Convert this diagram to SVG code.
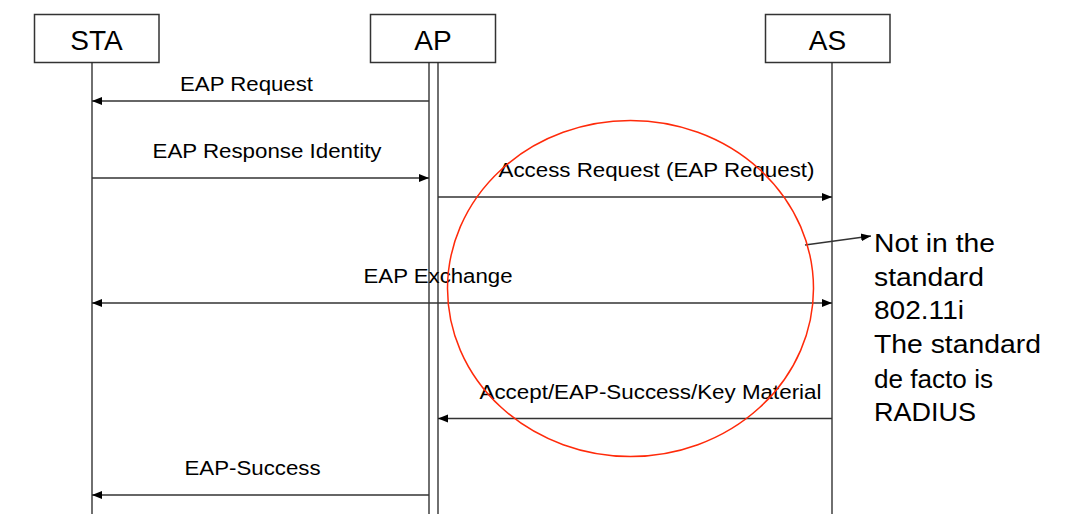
<svg xmlns="http://www.w3.org/2000/svg" width="1077" height="525" viewBox="0 0 1077 525">
<style>
.box{fill:#fff;stroke:#333;stroke-width:1.5}
.life{stroke:#222;stroke-width:1.3;fill:none}
.msg{stroke:#333;stroke-width:1.5;fill:none}
.t{font-family:"Liberation Sans",Arial,sans-serif;fill:#000}
.lbl{font-size:20px}
.head{font-size:28px;text-anchor:middle}
.note{font-size:25px}
</style>
<defs>
<marker id="ah" viewBox="0 0 10 10" refX="10" refY="5" markerWidth="10" markerHeight="10" markerUnits="userSpaceOnUse" orient="auto-start-reverse">
<path d="M0,1 L10,5 L0,9 Z" fill="#000"/>
</marker>
</defs>
<rect width="1077" height="525" fill="#fff"/>
<g id="STA">
<rect class="box" x="34.5" y="14.5" width="124.5" height="48"/>
<text class="t head" x="96.5" y="50">STA</text>
<line class="life" x1="92" y1="62.5" x2="92" y2="514"/>
</g>
<g id="AP">
<rect class="box" x="370.5" y="14.5" width="125" height="48"/>
<text class="t head" x="433" y="50">AP</text>
<line class="life" x1="429" y1="62.5" x2="429" y2="514"/>
<line class="life" x1="438" y1="62.5" x2="438" y2="514"/>
</g>
<g id="AS">
<rect class="box" x="765.5" y="14.5" width="124.5" height="48"/>
<text class="t head" x="827.5" y="50">AS</text>
<line class="life" x1="832" y1="62.5" x2="832" y2="514"/>
</g>
<g id="connectors">
<line class="msg" x1="429" y1="101" x2="92" y2="101" marker-end="url(#ah)"/>
<line class="msg" x1="92" y1="178" x2="429" y2="178" marker-end="url(#ah)"/>
<line class="msg" x1="438" y1="197" x2="832" y2="197" marker-end="url(#ah)"/>
<line class="msg" x1="92" y1="303" x2="832" y2="303" marker-start="url(#ah)" marker-end="url(#ah)"/>
<line class="msg" x1="832" y1="418.5" x2="438" y2="418.5" marker-end="url(#ah)"/>
<line class="msg" x1="429" y1="495" x2="92" y2="495" marker-end="url(#ah)"/>
<line class="msg" x1="805" y1="245" x2="871" y2="236" marker-end="url(#ah)"/>
</g>
<g id="labels">
<text class="t lbl" x="180" y="91" textLength="133" lengthAdjust="spacingAndGlyphs">EAP Request</text>
<text class="t lbl" x="152.5" y="158" textLength="229" lengthAdjust="spacingAndGlyphs">EAP Response Identity</text>
<text class="t lbl" x="498.5" y="177" textLength="316" lengthAdjust="spacingAndGlyphs">Access Request (EAP Request)</text>
<text class="t lbl" x="363.5" y="283" textLength="149" lengthAdjust="spacingAndGlyphs">EAP Exchange</text>
<text class="t lbl" x="479.5" y="399" textLength="342" lengthAdjust="spacingAndGlyphs">Accept/EAP-Success/Key Material</text>
<text class="t lbl" x="184.5" y="475" textLength="136" lengthAdjust="spacingAndGlyphs">EAP-Success</text>
</g>
<g id="highlight">
<ellipse cx="630.5" cy="288.5" rx="183" ry="168" fill="none" stroke="#ff2a0a" stroke-width="1.5"/>
</g>
<g id="note">
<text class="t note" x="874" y="252" textLength="121" lengthAdjust="spacingAndGlyphs">Not in the</text>
<text class="t note" x="874" y="286" textLength="110" lengthAdjust="spacingAndGlyphs">standard</text>
<text class="t note" x="874" y="318.5" textLength="90" lengthAdjust="spacingAndGlyphs">802.11i</text>
<text class="t note" x="874" y="353" textLength="167" lengthAdjust="spacingAndGlyphs">The standard</text>
<text class="t note" x="874" y="387.5" textLength="119" lengthAdjust="spacingAndGlyphs">de facto is</text>
<text class="t note" x="874" y="421" textLength="102" lengthAdjust="spacingAndGlyphs">RADIUS</text>
</g>
</svg>
